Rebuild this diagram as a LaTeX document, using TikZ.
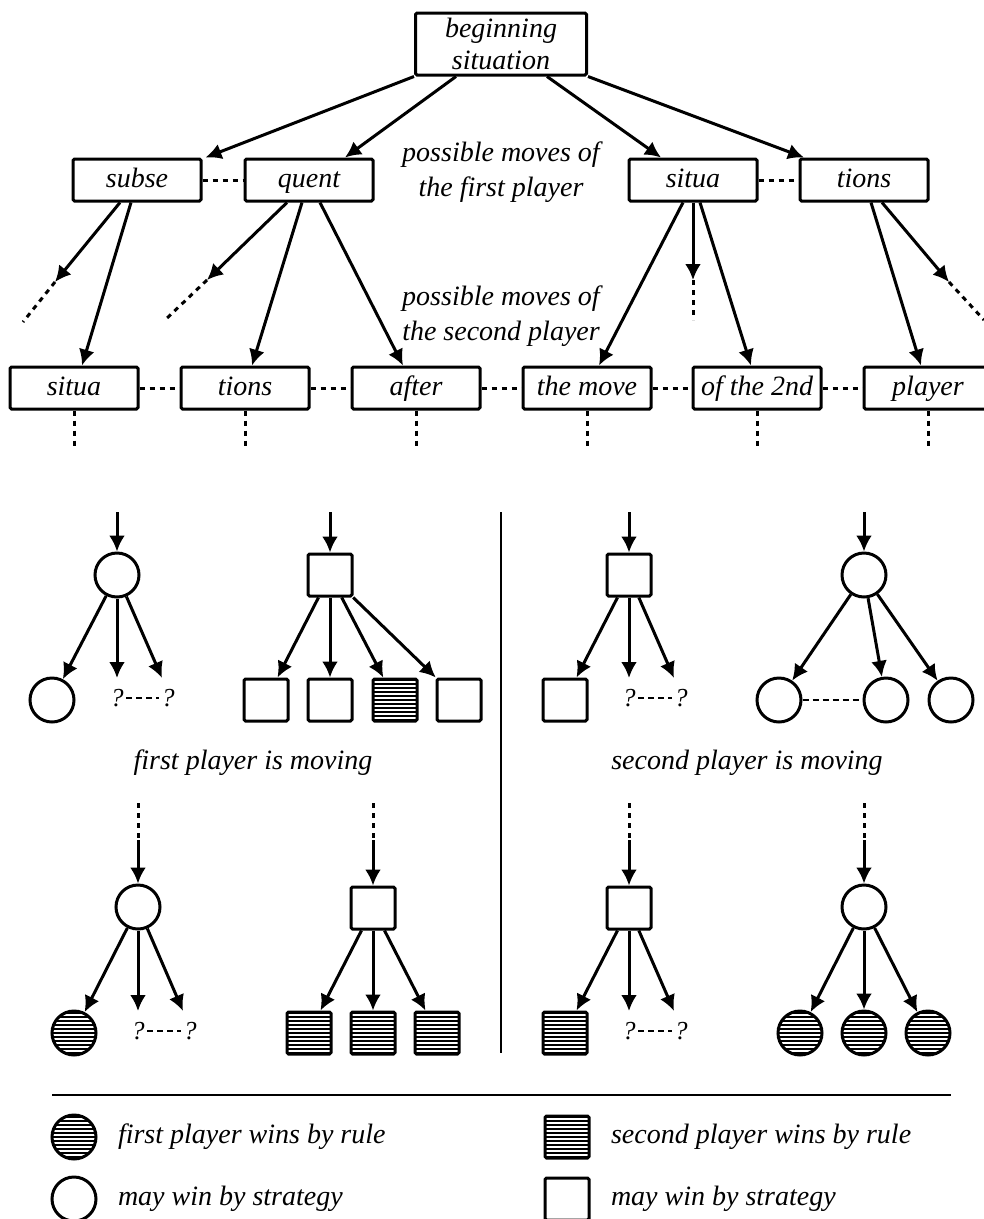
\documentclass[tikz,border=0pt]{standalone}
\usepackage{fontspec}
\setmainfont{Liberation Serif}
\usetikzlibrary{arrows.meta,positioning}
\tikzset{>={Latex[length=16pt,width=16pt]}}
\tikzstyle{sit}=[draw, rounded corners=1.5pt, minimum width=128pt,
minimum height=42pt, inner sep=0pt, text height=19pt, text depth=5pt,
font=\itshape\fontsize{28}{32}\selectfont]
\tikzstyle{note}=[align=center, inner sep=0pt, font=\itshape\fontsize{28}{35}\selectfont]
\tikzstyle{circ}=[draw, circle, minimum size=44pt, inner sep=0pt]
\tikzstyle{sq}=[draw, rounded corners=1.5pt, minimum width=44pt,
minimum height=42pt, inner sep=0pt]
\tikzstyle{qm}=[inner sep=1pt, font=\itshape\fontsize{26}{30}\selectfont]
\tikzstyle{dotln}=[dash pattern=on 5pt off 5pt]
\tikzstyle{qline}=[line width=2pt, dash pattern=on 6pt off 4pt]
\tikzset{win/.style={fill=black, path picture={%
			\foreach \k in {-26,-22,...,26}
			\draw[white, line width=1.3pt]
			([yshift=\k pt]path picture bounding box.west) --
			([yshift=\k pt]path picture bounding box.east);}}}

\begin{document}
\begin{tikzpicture}[x=1pt, y=-1pt, line width=3pt]
	\useasboundingbox (0,0) rectangle (984,1219);
	% moves of the two players
	\node[sit, minimum width=171pt, minimum height=62pt, align=center,
	text height=, text depth=] (begin) at (501,44) {beginning\\situation};
	\node[sit] (subse) at (137,180) {subse};
	\node[sit] (quent) at (309,180) {quent};
	\node[sit] (situa) at (693,180) {situa};
	\node[sit] (tions) at (864,180) {tions};
	\node[note] (mv1) at (501,172) {possible moves of\\the first player};
	\node[note] (mv2) at (501,316) {possible moves of\\the second player};
	\node[sit] (s1) at (74,388) {situa};
	\node[sit] (s2) at (245,388) {tions};
	\node[sit] (s3) at (416,388) {after};
	\node[sit] (s4) at (587,388) {the move};
	\node[sit] (s5) at (757,388) {of the 2nd};
	\node[sit] (s6) at (928,388) {player};
	\draw[->] (begin.south west) -- ([xshift=3pt]subse.north east);
	\draw[->] ([xshift=-45pt]begin.south) -- ([xshift=36pt]quent.north);
	\draw[->] ([xshift=46pt]begin.south) -- ([xshift=-32pt]situa.north);
	\draw[->] (begin.south east) -- ([xshift=-60pt]tions.north);
	\draw[dotln] (subse) -- (quent);
	\draw[dotln] (situa) -- (tions);
	% branches left open
	\coordinate (d1) at (55,282);  \coordinate (e1) at (23,322);
	\coordinate (d2) at (207,280); \coordinate (e2) at (165,320);
	\coordinate (d3) at (693,280); \coordinate (e3) at (693,320);
	\coordinate (d4) at (949,282); \coordinate (e4) at (984,320);
	\draw[->] ([xshift=-17pt]subse.south) -- (d1);
	\draw[->] ([xshift=-6pt]subse.south) -- ([xshift=8pt]s1.north);
	\draw[->] ([xshift=-22pt]quent.south) -- (d2);
	\draw[->] ([xshift=-7pt]quent.south) -- ([xshift=7pt]s2.north);
	\draw[->] ([xshift=11pt]quent.south) -- ([xshift=-13pt]s3.north);
	\draw[->] ([xshift=-10pt]situa.south) -- ([xshift=12pt]s4.north);
	\draw[->] (situa.south) -- (d3);
	\draw[->] ([xshift=7pt]situa.south) -- ([xshift=-6pt]s5.north);
	\draw[->] ([xshift=7pt]tions.south) -- ([xshift=-7pt]s6.north);
	\draw[->] ([xshift=18pt]tions.south) -- (d4);
	\foreach \i in {1,2,3,4}
	\draw[dotln] (d\i) -- (e\i);
	\foreach \i/\j in {1/2,2/3,3/4,4/5,5/6}
	\draw[dotln] (s\i) -- (s\j);
	\foreach \i in {1,...,6}{
		\coordinate (t\i) at ([yshift=-36pt]s\i.south);
		\draw[dotln] (s\i.south) -- (t\i);
	}
	
	% first player is moving
	\coordinate (a0) at (117,512);
	\node[circ] (a) at (117,575) {};
	\node[circ] (a1) at (52,700) {};
	\node[qm] (a2) at (117,698) {?};
	\node[qm] (a3) at (168,698) {?};
	\coordinate (a2t) at (117,678); \coordinate (a3t) at (162,678);
	\draw[->] (a0) -- (a);
	\draw[->] (a) -- (a1);
	\draw[->] (a) -- (a2t);
	\draw[->] (a) -- (a3t);
	\draw[qline] (a2) -- (a3);
	\coordinate (b0) at (330,512);
	\node[sq] (b) at (330,575) {};
	\node[sq] (b1) at (266,700) {};
	\node[sq] (b2) at (330,700) {};
	\node[sq, win] (b3) at (395,700) {};
	\node[sq] (b4) at (459,700) {};
	\draw[->] (b0) -- (b);
	\foreach \i in {1,...,4}
	\draw[->] (b) -- (b\i);
	\node[note] (fpm) at (253,763) {first player is moving};
	
	% second player is moving
	\coordinate (c0) at (629,512);
	\node[sq] (c) at (629,575) {};
	\node[sq] (c1) at (565,700) {};
	\node[qm] (c2) at (629,698) {?};
	\node[qm] (c3) at (681,698) {?};
	\coordinate (c2t) at (629,678); \coordinate (c3t) at (674,678);
	\draw[->] (c0) -- (c);
	\draw[->] (c) -- (c1);
	\draw[->] (c) -- (c2t);
	\draw[->] (c) -- (c3t);
	\draw[qline] (c2) -- (c3);
	\coordinate (g0) at (864,512);
	\node[circ] (g) at (864,575) {};
	\node[circ] (g1) at (779,700) {};
	\node[circ] (g2) at (886,700) {};
	\node[circ] (g3) at (951,700) {};
	\draw[->] (g0) -- (g);
	\foreach \i in {1,2,3}
	\draw[->] (g) -- (g\i);
	\draw[qline] (g1) -- (g2);
	\node[note] (spm) at (747,763) {second player is moving};
	
	% end of the game
	\foreach \n/\x in {h/138,k/373,m/629,n/864}{
		\coordinate (\n0) at (\x,803);
		\coordinate (\n9) at (\x,840);
		\draw[dotln] (\n0) -- (\n9);
	}
	\node[circ] (h) at (138,907) {};
	\node[circ, win] (h1) at (74,1033) {};
	\node[qm] (h2) at (138,1031) {?};
	\node[qm] (h3) at (190,1031) {?};
	\coordinate (h2t) at (138,1011); \coordinate (h3t) at (183,1011);
	\draw[->] (h9) -- (h);
	\draw[->] (h) -- (h1);
	\draw[->] (h) -- (h2t);
	\draw[->] (h) -- (h3t);
	\draw[qline] (h2) -- (h3);
	\node[sq] (k) at (373,908) {};
	\node[sq, win] (k1) at (309,1033) {};
	\node[sq, win] (k2) at (373,1033) {};
	\node[sq, win] (k3) at (437,1033) {};
	\draw[->] (k9) -- (k);
	\foreach \i in {1,2,3}
	\draw[->] (k) -- (k\i);
	\node[sq] (m) at (629,908) {};
	\node[sq, win] (m1) at (565,1033) {};
	\node[qm] (m2) at (629,1031) {?};
	\node[qm] (m3) at (681,1031) {?};
	\coordinate (m2t) at (629,1011); \coordinate (m3t) at (674,1011);
	\draw[->] (m9) -- (m);
	\draw[->] (m) -- (m1);
	\draw[->] (m) -- (m2t);
	\draw[->] (m) -- (m3t);
	\draw[qline] (m2) -- (m3);
	\node[circ] (n) at (864,907) {};
	\node[circ, win] (n1) at (800,1033) {};
	\node[circ, win] (n2) at (864,1033) {};
	\node[circ, win] (n3) at (928,1033) {};
	\draw[->] (n9) -- (n);
	\foreach \i in {1,2,3}
	\draw[->] (n) -- (n\i);
	
	% separators
	\coordinate (v0) at (501,512); \coordinate (v1) at (501,1053);
	\draw[line width=1.8pt] (v0) -- (v1);
	\coordinate (l0) at (52,1095); \coordinate (l1) at (951,1095);
	\draw[line width=1.8pt] (l0) -- (l1);
	
	% legend
	\node[circ, win] (lg1) at (74,1137) {};
	\node[note, right=19pt of lg1] {first player wins by rule};
	\node[sq, win] (lg2) at (567,1137) {};
	\node[note, right=19pt of lg2] {second player wins by rule};
	\node[circ] (lg3) at (74,1199) {};
	\node[note, right=19pt of lg3] {may win by strategy};
	\node[sq] (lg4) at (567,1199) {};
	\node[note, right=19pt of lg4] {may win by strategy};
\end{tikzpicture}
\end{document}
